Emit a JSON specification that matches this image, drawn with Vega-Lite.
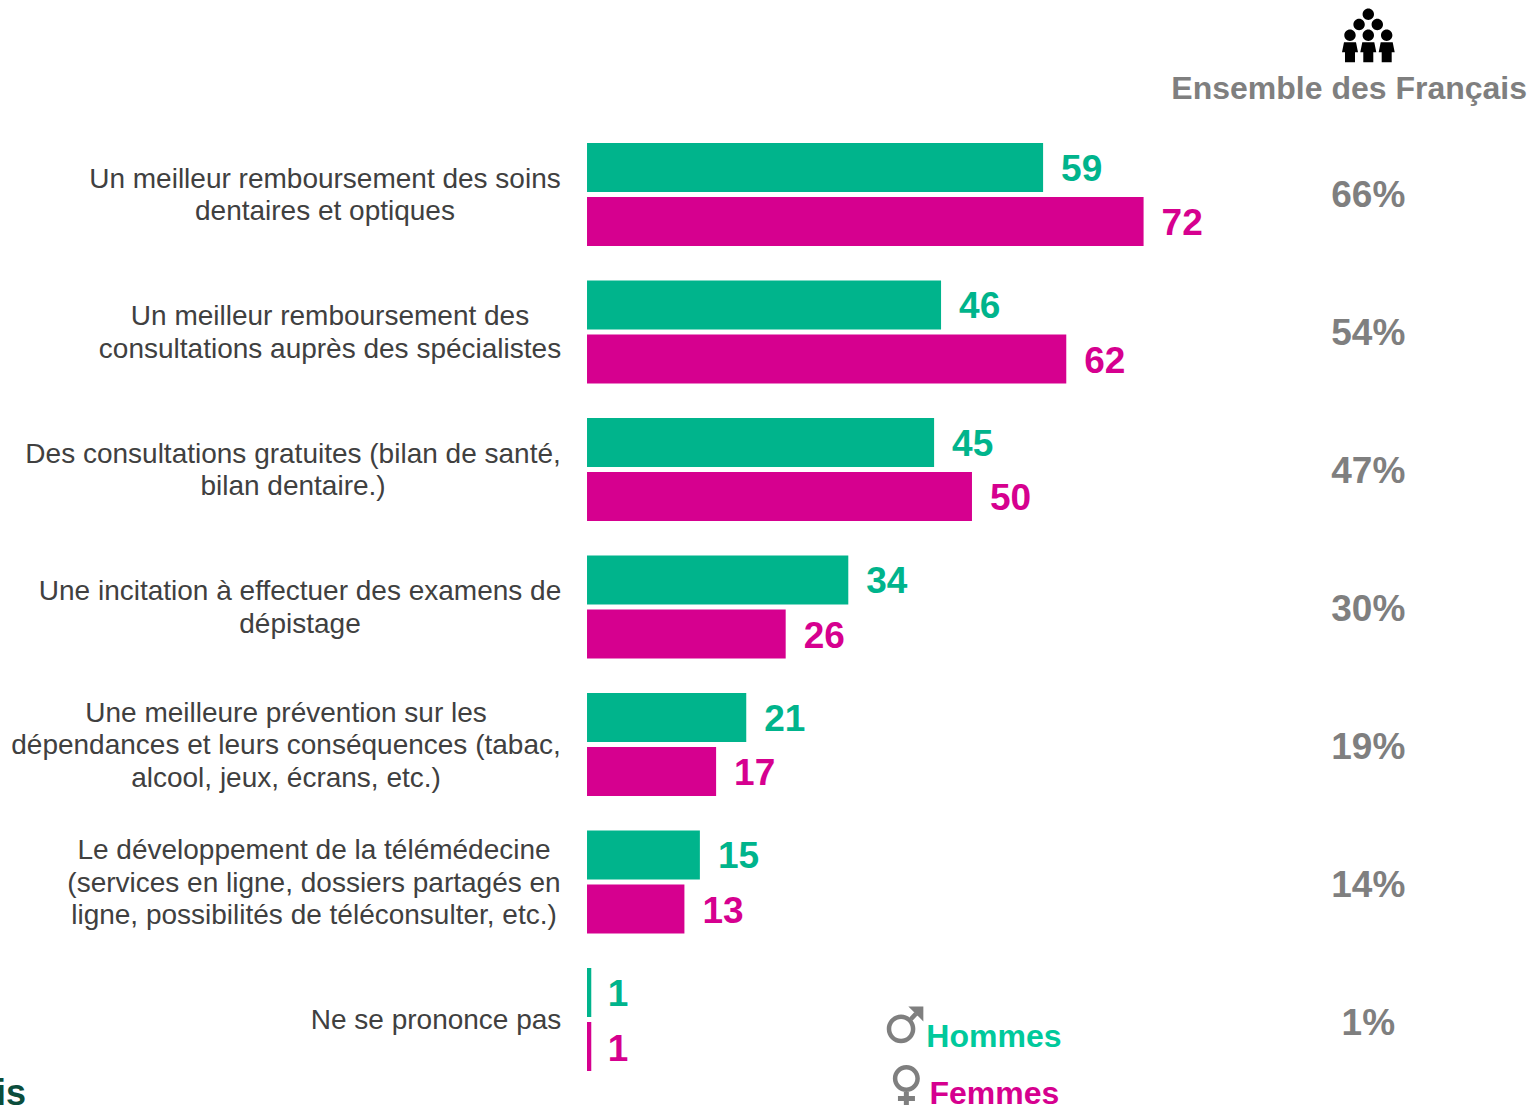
{
"$schema":"https://vega.github.io/schema/vega-lite/v6.json",
"width":1529,"height":1105,"padding":0,"autosize":"none",
"background":"white",
"config":{"view":{"stroke":null},"text":{"font":"Liberation Sans"}},
"data":{"values":[
{"rank":0,"label":"Un meilleur remboursement des soins|dentaires et optiques","group":"Hommes","value":59,"total":"66%"},
{"rank":0,"label":"Un meilleur remboursement des soins|dentaires et optiques","group":"Femmes","value":72,"total":"66%"},
{"rank":1,"label":"Un meilleur remboursement des|consultations auprès des spécialistes","group":"Hommes","value":45.8,"total":"54%"},
{"rank":1,"label":"Un meilleur remboursement des|consultations auprès des spécialistes","group":"Femmes","value":62,"total":"54%"},
{"rank":2,"label":"Des consultations gratuites (bilan de santé,|bilan dentaire.)","group":"Hommes","value":44.9,"total":"47%"},
{"rank":2,"label":"Des consultations gratuites (bilan de santé,|bilan dentaire.)","group":"Femmes","value":49.8,"total":"47%"},
{"rank":3,"label":"Une incitation à effectuer des examens de|dépistage","group":"Hommes","value":33.8,"total":"30%"},
{"rank":3,"label":"Une incitation à effectuer des examens de|dépistage","group":"Femmes","value":25.7,"total":"30%"},
{"rank":4,"label":"Une meilleure prévention sur les|dépendances et leurs conséquences (tabac,|alcool, jeux, écrans, etc.)","group":"Hommes","value":20.6,"total":"19%"},
{"rank":4,"label":"Une meilleure prévention sur les|dépendances et leurs conséquences (tabac,|alcool, jeux, écrans, etc.)","group":"Femmes","value":16.7,"total":"19%"},
{"rank":5,"label":"Le développement de la télémédecine|(services en ligne, dossiers partagés en|ligne, possibilités de téléconsulter, etc.)","group":"Hommes","value":14.6,"total":"14%"},
{"rank":5,"label":"Le développement de la télémédecine|(services en ligne, dossiers partagés en|ligne, possibilités de téléconsulter, etc.)","group":"Femmes","value":12.6,"total":"14%"},
{"rank":6,"label":"Ne se prononce pas","group":"Hommes","value":0.55,"total":"1%"},
{"rank":6,"label":"Ne se prononce pas","group":"Femmes","value":0.55,"total":"1%"}
]},
"layer":[
{"mark":{"type":"bar","cornerRadius":0},
"encoding":{
"x":{"field":"value","type":"quantitative","axis":null,"scale":{"domain":[-75.94,121.86],"range":[0,1529],"nice":false,"zero":false}},
"y":{"field":"label","type":"nominal","axis":null,"sort":null,"scale":{"domain":["Ensemble des Français","Un meilleur remboursement des soins|dentaires et optiques","Un meilleur remboursement des|consultations auprès des spécialistes","Des consultations gratuites (bilan de santé,|bilan dentaire.)","Une incitation à effectuer des examens de|dépistage","Une meilleure prévention sur les|dépendances et leurs conséquences (tabac,|alcool, jeux, écrans, etc.)","Le développement de la télémédecine|(services en ligne, dossiers partagés en|ligne, possibilités de téléconsulter, etc.)","Ne se prononce pas"],"range":[-11.75,1088.25],"paddingInner":0.2509,"paddingOuter":0.12545}},
"yOffset":{"field":"group","type":"nominal","sort":null,"scale":{"domain":["Hommes","Femmes"],"paddingInner":0.0926,"paddingOuter":0}},
"color":{"field":"group","type":"nominal","legend":null,"scale":{"domain":["Hommes","Femmes"],"range":["#00B48C","#D6008F"]}}
}},
{"mark":{"type":"text","align":"left","baseline":"middle","dx":{"expr":"datum.value<1?16.5:18"},"dy":{"expr":"datum.value<1?3:2.5"},"fontSize":37,"fontWeight":"bold"},
"encoding":{
"x":{"field":"value","type":"quantitative","axis":null},
"y":{"field":"label","type":"nominal","axis":null},
"yOffset":{"field":"group","type":"nominal"},
"color":{"field":"group","type":"nominal","legend":null},
"text":{"field":"value","type":"quantitative","format":".0f"}
}},
{"transform":[{"filter":"datum.group=='Hommes'"},{"calculate":"[-33.9,-33.25,-38.03,-37.13,-38.94,-35.32,-19.53][datum.rank]","as":"labelCentre"}],
"mark":{"type":"text","align":"center","baseline":"middle","lineBreak":"|","lineHeight":32.5,"fontSize":28,"color":"#404040","dy":{"expr":"1-16*(length(split(datum.label,'|'))-1)"}},
"encoding":{
"x":{"field":"labelCentre","type":"quantitative","axis":null},
"y":{"field":"label","type":"nominal","axis":null},
"text":{"field":"label","type":"nominal"}
}},
{"transform":[{"filter":"datum.group=='Hommes'"}],
"mark":{"type":"text","align":"center","baseline":"middle","fontSize":37,"fontWeight":"bold","color":"#7F7F7F","dy":{"expr":"1+0.6*datum.rank"}},
"encoding":{
"x":{"datum":101.07,"type":"quantitative","axis":null},
"y":{"field":"label","type":"nominal","axis":null},
"text":{"field":"total","type":"nominal"}
}},
{"data":{"values":[{"title":"Ensemble des Français"}]},
"mark":{"type":"text","align":"center","baseline":"middle","fontSize":32,"fontWeight":"bold","color":"#7F7F7F","dy":32},
"encoding":{
"x":{"datum":98.6,"type":"quantitative","axis":null},
"y":{"field":"title","type":"nominal","axis":null},
"text":{"field":"title","type":"nominal"}
}},
{"data":{"values":[{"title":"Ensemble des Français"}]},
"mark":{"type":"point","filled":true,"opacity":1,"size":4,"color":"#000000","strokeWidth":0,"shape":"M-5.7,-42.8a5.7,5.7 0 1,0 11.4,0a5.7,5.7 0 1,0 -11.4,0ZM-14.9,-32.5a5.7,5.7 0 1,0 11.4,0a5.7,5.7 0 1,0 -11.4,0ZM3.3,-32.5a5.7,5.7 0 1,0 11.4,0a5.7,5.7 0 1,0 -11.4,0ZM-24,-21.8a5.7,5.7 0 1,0 11.4,0a5.7,5.7 0 1,0 -11.4,0ZM-5.7,-21.8a5.7,5.7 0 1,0 11.4,0a5.7,5.7 0 1,0 -11.4,0ZM12.7,-21.8a5.7,5.7 0 1,0 11.4,0a5.7,5.7 0 1,0 -11.4,0ZM-24.3,-14.8L-12.3,-14.8L-10.3,-4.8L-13.3,-4.8L-13.3,5.2L-23.3,5.2L-23.3,-4.8L-26.3,-4.8ZM-6,-14.8L6,-14.8L8,-4.8L5,-4.8L5,5.2L-5,5.2L-5,-4.8L-8,-4.8ZM12.4,-14.8L24.4,-14.8L26.4,-4.8L23.4,-4.8L23.4,5.2L13.4,5.2L13.4,-4.8L10.4,-4.8Z"},
"encoding":{
"x":{"datum":101.07,"type":"quantitative","axis":null},
"y":{"field":"title","type":"nominal","axis":null}
}},
{"data":{"values":[{"label":"Ne se prononce pas","group":"Hommes"}]},
"mark":{"type":"point","filled":true,"opacity":1,"size":4,"color":"#7F7F7F","strokeWidth":0,"shape":"M-17.2,36.4a14.3,14.3 0 1,1 28.6,0a14.3,14.3 0 1,1 -28.6,0ZM-12.7,36.4a9.8,9.8 0 1,0 19.6,0a9.8,9.8 0 1,0 -19.6,0ZM5.6,24.7L8.8,27.9L13.5,23L10.3,19.8ZM4.4,13.9L19.4,13.9L19.4,28.9Z"},
"encoding":{
"x":{"datum":41,"type":"quantitative","axis":null},
"y":{"field":"label","type":"nominal","axis":null},
"yOffset":{"field":"group","type":"nominal"}
}},
{"data":{"values":[{"label":"Ne se prononce pas","group":"Femmes"}]},
"mark":{"type":"point","filled":true,"opacity":1,"size":4,"color":"#7F7F7F","strokeWidth":0,"shape":"M-11.1,32.1a13.5,13.5 0 1,1 27,0a13.5,13.5 0 1,1 -27,0ZM-6.6,32.1a9,9 0 1,0 18,0a9,9 0 1,0 -18,0ZM-0.1,45L4.9,45L4.9,49.4L11,49.4L11,54.4L4.9,54.4L4.9,61L-0.1,61L-0.1,54.4L-6,54.4L-6,49.4L-0.1,49.4Z"},
"encoding":{
"x":{"datum":41,"type":"quantitative","axis":null},
"y":{"field":"label","type":"nominal","axis":null},
"yOffset":{"field":"group","type":"nominal"}
}},
{"data":{"values":[{"label":"Ne se prononce pas","group":"Hommes"}]},
"mark":{"type":"text","align":"left","baseline":"middle","fontSize":32,"fontWeight":"bold","color":"#00C99C","dy":45},
"encoding":{
"x":{"datum":43.9,"type":"quantitative","axis":null},
"y":{"field":"label","type":"nominal","axis":null},
"yOffset":{"field":"group","type":"nominal"},
"text":{"field":"group","type":"nominal"}
}},
{"data":{"values":[{"label":"Ne se prononce pas","group":"Femmes"}]},
"mark":{"type":"text","align":"left","baseline":"middle","fontSize":32,"fontWeight":"bold","color":"#D6008F","dy":47},
"encoding":{
"x":{"datum":44.3,"type":"quantitative","axis":null},
"y":{"field":"label","type":"nominal","axis":null},
"yOffset":{"field":"group","type":"nominal"},
"text":{"field":"group","type":"nominal"}
}},
{"data":{"values":[{"label":"Ne se prononce pas","logo":"is"}]},
"mark":{"type":"text","align":"right","baseline":"middle","fontSize":36,"fontWeight":"bold","color":"#0B4D3C","dy":74},
"encoding":{
"x":{"datum":-72.57,"type":"quantitative","axis":null},
"y":{"field":"label","type":"nominal","axis":null},
"text":{"field":"logo","type":"nominal"}
}}
]
}
